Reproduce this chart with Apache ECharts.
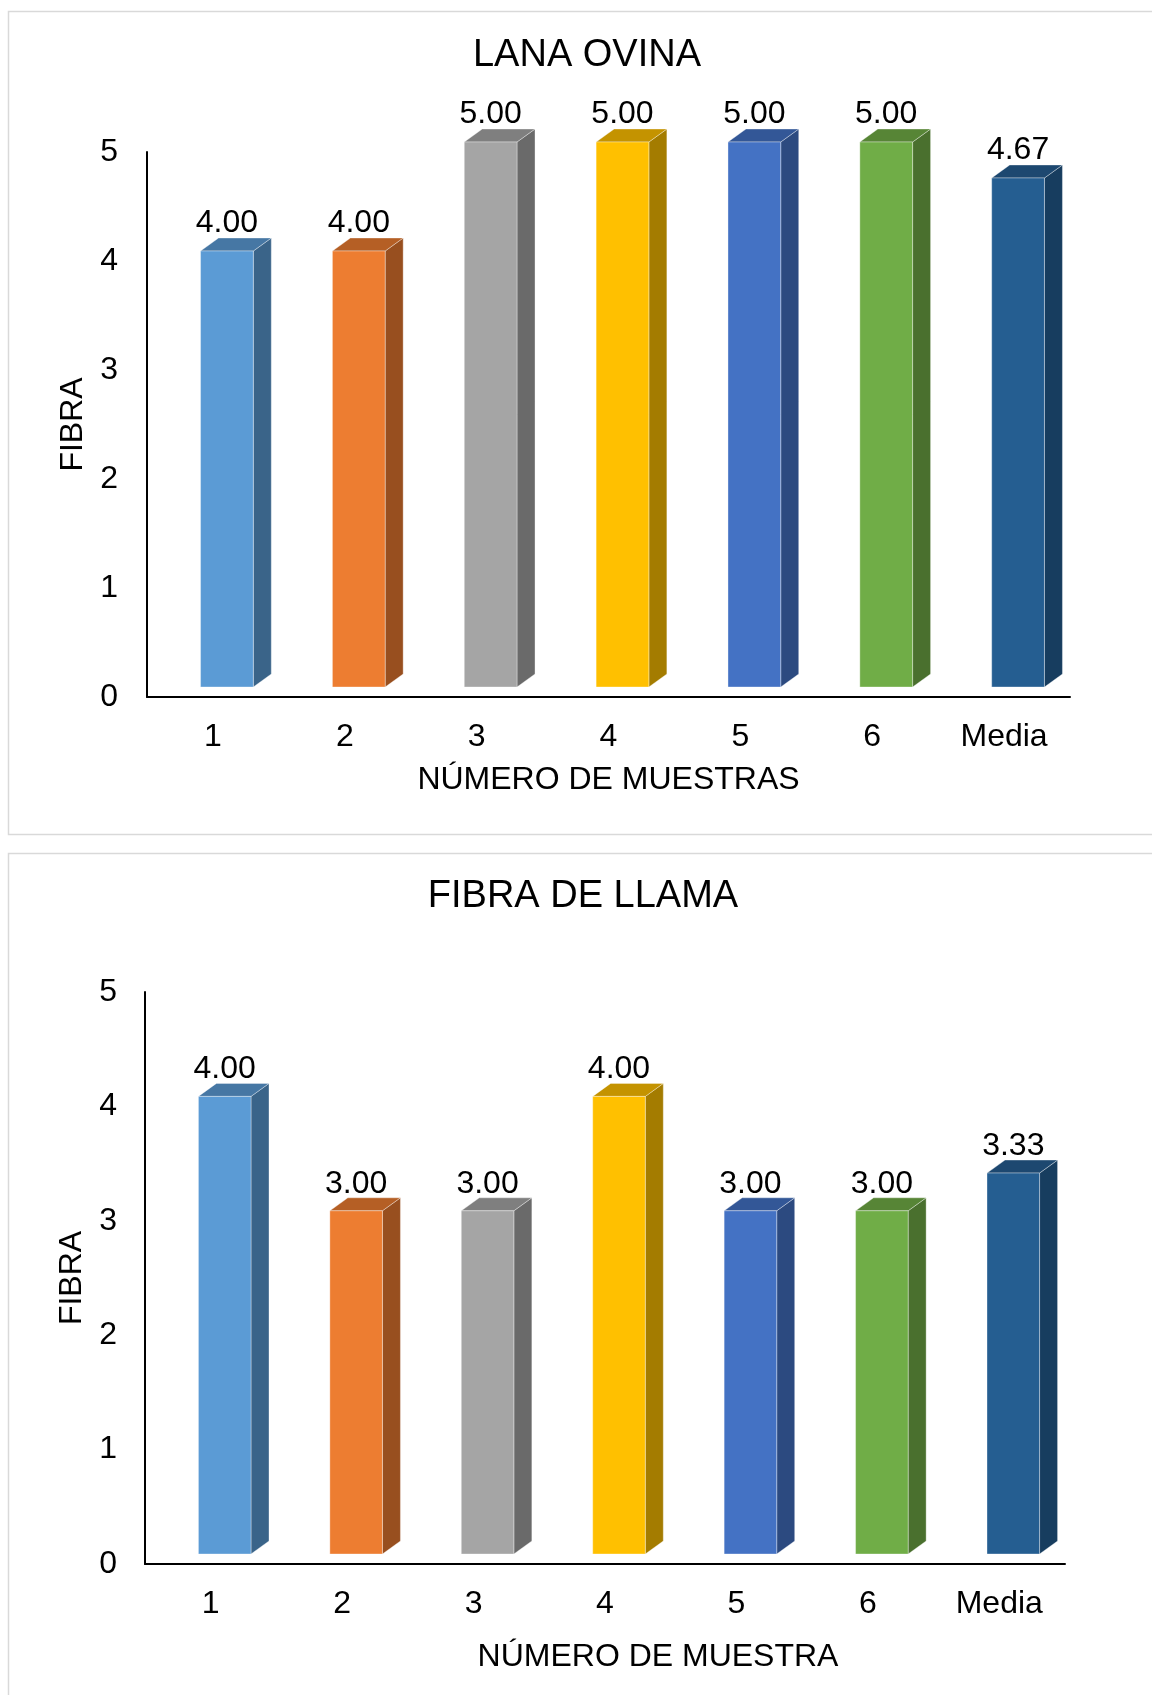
<!DOCTYPE html>
<html>
<head>
<meta charset="utf-8">
<title>Fibra</title>
<script src="https://cdn.jsdelivr.net/npm/echarts@6/dist/echarts.min.js"></script>
<style>
    html, body { margin: 0; padding: 0; background: #fff; }
    #main { width: 1152px; height: 1695px; }
</style>
</head>
<body>
<div id="main"></div>
<script>
var categories = ['1', '2', '3', '4', '5', '6', 'Media'];
var lanaOvina = [4.00, 4.00, 5.00, 5.00, 5.00, 5.00, 4.67];
var fibraLlama = [4.00, 3.00, 3.00, 4.00, 3.00, 3.00, 3.33];
var yTicks = [0, 1, 2, 3, 4, 5];

// cara frontal, lateral y superior de cada columna
var frontColors = ['#5B9BD5', '#ED7D31', '#A5A5A5', '#FFC000', '#4472C4', '#70AD47', '#255E91'];
var sideColors = ['#3A6489', '#984F1F', '#6A6A6A', '#A47C00', '#2C4A80', '#4A702E', '#173D5F'];
var topColors = ['#4677A4', '#B55F25', '#7F7F7F', '#C49300', '#335797', '#578536', '#1D4870'];

var FONT = "'Liberation Sans', Arial, sans-serif";

var chart = echarts.init(document.getElementById('main'));

function makeRender(lift, labelGap) {
    return function (params, api) {
        var i = api.value(0);
        var v = api.value(1);
        var top = api.coord([i, v]);
        var base = api.coord([i, 0]);
        var band = api.size([1, 0])[0];
        var w = band * 0.40;
        var dx = 18, dy = 13;
        var cx = top[0] + 14;
        var xL = cx - w / 2, xR = cx + w / 2;
        var yT = top[1] - lift, yB = base[1] - lift;
        return {
            type: 'group',
            children: [
                {
                    type: 'polygon',
                    shape: { points: [[xR, yT], [xR + dx, yT - dy], [xR + dx, yB - dy], [xR, yB]] },
                    style: { fill: sideColors[i], stroke: 'rgba(255,255,255,0.35)', lineWidth: 1 }
                },
                {
                    type: 'polygon',
                    shape: { points: [[xL, yT], [xL + dx, yT - dy], [xR + dx, yT - dy], [xR, yT]] },
                    style: { fill: topColors[i], stroke: 'rgba(255,255,255,0.35)', lineWidth: 1 }
                },
                {
                    type: 'rect',
                    shape: { x: xL, y: yT, width: w, height: yB - yT },
                    style: { fill: frontColors[i], stroke: 'rgba(255,255,255,0.35)', lineWidth: 1 }
                },
                {
                    type: 'text',
                    style: {
                        text: v.toFixed(2),
                        x: cx, y: yT - dy - labelGap,
                        align: 'center', verticalAlign: 'middle',
                        fill: '#000', font: '32px ' + FONT
                    }
                }
            ]
        };
    };
}

function seriesData(arr) {
    return arr.map(function (v, i) { return [i, v]; });
}

var xLabel = { color: '#000', fontSize: 32, fontFamily: FONT, margin: 24 };
var yLabel = { color: '#000', fontSize: 32, fontFamily: FONT, padding: [14, 0, 0, 0] };
var axisName = { color: '#000', fontSize: 32, fontFamily: FONT };

option = {
    animation: false,
    backgroundColor: '#fff',
    graphic: [
        { type: 'rect', shape: { x: 8.5, y: 11.5, width: 1200, height: 823 }, style: { fill: 'none', stroke: '#d9d9d9', lineWidth: 1.5 }, z: -1 },
        { type: 'rect', shape: { x: 8.5, y: 853.5, width: 1200, height: 900 }, style: { fill: 'none', stroke: '#d9d9d9', lineWidth: 1.5 }, z: -1 }
    ],
    title: [
        { text: 'LANA OVINA', left: 587, top: 37, textAlign: 'center', padding: 0,
          textStyle: { color: '#000', fontSize: 38, fontWeight: 'normal', fontFamily: FONT } },
        { text: 'FIBRA DE LLAMA', left: 583, top: 878, textAlign: 'center', padding: 0,
          textStyle: { color: '#000', fontSize: 38, fontWeight: 'normal', fontFamily: FONT } }
    ],
    grid: [
        { left: 147, top: 152, width: 923, height: 545 },
        { left: 145, top: 992, width: 920, height: 572 }
    ],
    xAxis: [
        {
            gridIndex: 0, type: 'category', data: categories,
            name: 'NÚMERO DE MUESTRAS', nameLocation: 'middle', nameGap: 67,
            nameTextStyle: axisName,
            axisLine: { lineStyle: { color: '#000', width: 2 } },
            axisTick: { show: false },
            axisLabel: xLabel
        },
        {
            gridIndex: 1, type: 'category', data: categories,
            name: 'NÚMERO DE MUESTRA', nameLocation: 'middle', nameGap: 77,
            nameTextStyle: Object.assign({ padding: [0, 0, 0, 106] }, axisName),
            axisLine: { lineStyle: { color: '#000', width: 2 } },
            axisTick: { show: false },
            axisLabel: xLabel
        }
    ],
    yAxis: [
        {
            gridIndex: 0, type: 'value', min: yTicks[0], max: yTicks[yTicks.length - 1], interval: 1,
            name: 'FIBRA', nameLocation: 'middle', nameGap: 55, nameTextStyle: axisName,
            axisLine: { show: true, lineStyle: { color: '#000', width: 2 } },
            axisTick: { show: false },
            splitLine: { show: false },
            axisLabel: Object.assign({ margin: 29 }, yLabel)
        },
        {
            gridIndex: 1, type: 'value', min: yTicks[0], max: yTicks[yTicks.length - 1], interval: 1,
            name: 'FIBRA', nameLocation: 'middle', nameGap: 56, nameTextStyle: axisName,
            axisLine: { show: true, lineStyle: { color: '#000', width: 2 } },
            axisTick: { show: false },
            splitLine: { show: false },
            axisLabel: Object.assign({ margin: 28 }, yLabel)
        }
    ],
    series: [
        {
            type: 'custom', name: 'LANA OVINA', xAxisIndex: 0, yAxisIndex: 0,
            renderItem: makeRender(10, 15), data: seriesData(lanaOvina)
        },
        {
            type: 'custom', name: 'FIBRA DE LLAMA', xAxisIndex: 1, yAxisIndex: 1,
            renderItem: makeRender(10, 14), data: seriesData(fibraLlama)
        }
    ]
};
chart.setOption(option);
</script>
</body>
</html>
